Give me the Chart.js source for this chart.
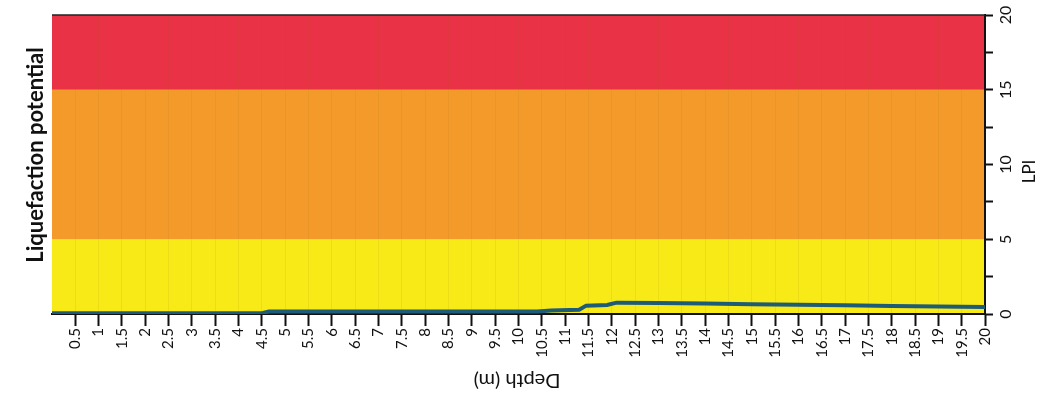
<!DOCTYPE html>
<html>
<head>
<meta charset="utf-8">
<script src="https://cdn.jsdelivr.net/npm/chart.js@4.4.1/dist/chart.umd.min.js"></script>
<style>
  html, body { margin: 0; padding: 0; background: #ffffff; }
  #wrap { width: 1040px; height: 394px; position: relative; }
</style>
</head>
<body>
<div id="wrap"><canvas id="c" width="1040" height="394"></canvas></div>
<script>
// Depth axis ticks (m) and LPI axis ticks
const depthTicks = [0.5, 1, 1.5, 2, 2.5, 3, 3.5, 4, 4.5, 5, 5.5, 6, 6.5, 7, 7.5, 8, 8.5, 9, 9.5, 10,
                    10.5, 11, 11.5, 12, 12.5, 13, 13.5, 14, 14.5, 15, 15.5, 16, 16.5, 17, 17.5, 18, 18.5, 19, 19.5, 20];
const lpiTicks = [0, 2.5, 5, 7.5, 10, 12.5, 15, 17.5, 20];
const lpiLabels = [0, 5, 10, 15, 20];

// Risk bands: low (0-5), high (5-15), very high (15-20)
const bandLimits = [0, 5, 15, 20];
const bandColors = ['#f8ea17', '#f39a2b', '#e93245'];

// Cumulative LPI against depth
const lineDepth = [0, 4.5, 4.65, 10.4, 10.7, 11.3, 11.45, 11.9, 12.1, 13, 14, 15, 16, 17, 18, 19, 20];
const lineLPI   = [0.05, 0.05, 0.16, 0.16, 0.24, 0.28, 0.56, 0.6, 0.76, 0.74, 0.7, 0.66, 0.62, 0.58, 0.54, 0.5, 0.46];

const FONT = 'Lato, "Liberation Sans", sans-serif';

const bandsPlugin = {
  id: 'bands',
  beforeDraw(chart) {
    const { ctx, chartArea: a, scales: { y } } = chart;
    ctx.save();
    for (let i = 0; i < bandColors.length; i++) {
      const top = y.getPixelForValue(bandLimits[i + 1]);
      const bot = y.getPixelForValue(bandLimits[i]);
      ctx.fillStyle = bandColors[i];
      ctx.fillRect(a.left, top, a.right - a.left, bot - top);
    }
    ctx.restore();
  }
};

const textPlugin = {
  id: 'texts',
  afterDraw(chart) {
    const { ctx, chartArea: a, scales: { y } } = chart;
    ctx.save();
    ctx.fillStyle = '#111';
    // top frame line
    ctx.strokeStyle = '#222';
    ctx.lineWidth = 1.5;
    ctx.beginPath();
    ctx.moveTo(a.left, a.top);
    ctx.lineTo(a.right, a.top);
    ctx.stroke();

    // LPI tick labels, read bottom to top
    ctx.font = '16px ' + FONT;
    ctx.textAlign = 'center';
    ctx.textBaseline = 'middle';
    lpiLabels.forEach(v => {
      const py = y.getPixelForValue(v);
      ctx.save();
      ctx.translate(a.right + 21, py);
      ctx.rotate(-Math.PI / 2);
      ctx.fillText(String(v), 0, 0);
      ctx.restore();
    });

    // LPI axis title
    ctx.save();
    ctx.font = '17px ' + FONT;
    ctx.translate(a.right + 45, (a.top + a.bottom) / 2 + 7);
    ctx.rotate(-Math.PI / 2);
    ctx.fillText('LPI', 0, 0);
    ctx.restore();

    // Depth axis title (upside down)
    ctx.save();
    ctx.font = '20px ' + FONT;
    ctx.translate(517, 380);
    ctx.rotate(Math.PI);
    ctx.fillText('Depth (m)', 0, 0);
    ctx.restore();

    // Chart title
    ctx.save();
    ctx.font = 'bold 22px ' + FONT;
    ctx.translate(36, 155);
    ctx.rotate(-Math.PI / 2);
    ctx.fillText('Liquefaction potential', 0, 0);
    ctx.restore();

    ctx.restore();
  }
};

new Chart(document.getElementById('c'), {
  type: 'line',
  data: {
    datasets: [{
      label: 'LPI',
      data: lineDepth.map((d, i) => ({ x: d, y: lineLPI[i] })),
      borderColor: '#1e5b76',
      borderWidth: 4,
      pointRadius: 0,
      tension: 0,
      fill: false
    }]
  },
  plugins: [bandsPlugin, textPlugin],
  options: {
    responsive: false,
    animation: false,
    devicePixelRatio: 1,
    layout: { padding: { left: 52, top: 15, right: 0, bottom: 0 } },
    plugins: { legend: { display: false }, tooltip: { enabled: false }, title: { display: false } },
    scales: {
      x: {
        type: 'linear',
        position: 'bottom',
        min: 0,
        max: 20,
        afterBuildTicks: s => { s.ticks = depthTicks.map(v => ({ value: v })); },
        afterFit: s => { s.height = 80; },
        grid: {
          color: 'rgba(150,110,20,0.10)',
          lineWidth: 1,
          tickColor: '#111',
          tickLength: 12,
          tickWidth: 2
        },
        border: { color: '#111', width: 2 },
        ticks: {
          autoSkip: false,
          minRotation: 90,
          maxRotation: 90,
          padding: 2,
          color: '#111',
          font: { family: FONT, size: 15 },
          callback: v => String(v)
        }
      },
      y: {
        type: 'linear',
        position: 'right',
        min: 0,
        max: 20,
        afterBuildTicks: s => { s.ticks = lpiTicks.map(v => ({ value: v })); },
        afterFit: s => { s.width = 55; },
        grid: {
          drawOnChartArea: false,
          tickColor: '#111',
          tickLength: 8,
          tickWidth: 2
        },
        border: { color: '#111', width: 2 },
        ticks: { display: false }
      }
    }
  }
});
</script>
</body>
</html>
